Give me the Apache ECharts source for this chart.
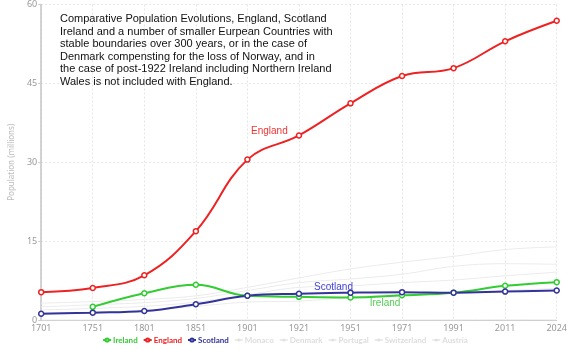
<!DOCTYPE html>
<html><head><meta charset="utf-8">
<script src="https://cdn.jsdelivr.net/npm/echarts@6/dist/echarts.min.js"></script>
<style>html,body{margin:0;padding:0;background:#fff}#c{width:570px;height:350px}</style>
</head><body><div id="c"></div>
<script>
const years = ['1701','1751','1801','1851','1901','1921','1951','1971','1991','2011','2024'];
const ireland  = [null, 2.5, 5.1, 6.7, 4.6, 4.4, 4.3, 4.7, 5.2, 6.5, 7.2];
const england  = [5.3, 6.1, 8.5, 16.9, 30.5, 35.1, 41.2, 46.4, 47.9, 53.0, 56.9];
const scotland = [1.2, 1.4, 1.7, 3.0, 4.6, 5.0, 5.2, 5.3, 5.2, 5.4, 5.6];
const monaco      = [0.01, 0.01, 0.01, 0.01, 0.02, 0.02, 0.02, 0.02, 0.03, 0.04, 0.04];
const denmark     = [1.3, 1.5, 1.8, 2.6, 3.4, 3.6, 4.3, 4.9, 5.1, 5.6, 6.0];
const portugal    = [2.5, 2.9, 3.3, 4.1, 5.6, 7.1, 7.8, 8.7, 10.2, 10.7, 10.6];
const switzerland = [1.9, 2.2, 2.6, 3.4, 4.8, 6.2, 6.5, 7.1, 7.6, 8.4, 9.1];
const austria     = [3.2, 3.5, 3.9, 4.6, 6.2, 8.0, 9.7, 11.0, 12.1, 13.4, 13.9];
const yTicks = [0, 15, 30, 45, 60];
const titleText = 'Comparative Population Evolutions, England, Scotland\nIreland and a number of smaller Eurpean Countries with\nstable boundaries over 300 years, or in the case of\nDenmark compensting for the loss of Norway, and in\nthe case of post-1922 Ireland including Northern Ireland\nWales is not included with England.';

const chart = echarts.init(document.getElementById('c'));
function withLabel(arr, idx, label) {
  return arr.map((v, i) => i === idx ? {value: v, label: label} : v);
}
function main(name, data, color) {
  return {
    name, type: 'line', smooth: 0.4, data, color,
    symbol: 'circle', symbolSize: 5, showSymbol: true,
    lineStyle: {width: 2, color},
    itemStyle: {color: '#fff', borderColor: color, borderWidth: 1.5},
    z: 5
  };
}
function faint(name, data) {
  return {
    name, type: 'line', smooth: 0.4, data, color: '#e2e2e2',
    showSymbol: false, symbol: 'circle', lineStyle: {width: 1, color: '#ebebeb'}, z: 1
  };
}
const series = [
  main('Ireland', withLabel(ireland, 7, {show: true, formatter: 'Ireland', position: 'bottom', offset: [-17, -5], color: '#55cc55', fontSize: 10, fontFamily: 'Liberation Sans'}), '#33cc33'),
  main('England', withLabel(england, 5, {show: true, formatter: 'England', position: 'left', offset: [-3, -4], color: '#ee3333', fontSize: 10, fontFamily: 'Liberation Sans'}), '#ee2222'),
  main('Scotland', withLabel(scotland, 6, {show: true, formatter: 'Scotland', position: 'top', offset: [-17, 8], color: '#4444dd', fontSize: 10, fontFamily: 'Liberation Sans'}), '#333399'),
  faint('Monaco', monaco),
  faint('Denmark', denmark),
  faint('Portugal', portugal),
  faint('Switzerland', switzerland),
  faint('Austria', austria)
];
const legendColors = {Ireland: '#33cc33', England: '#ee2222', Scotland: '#333399'};
chart.setOption({
  animation: false,
  title: {text: titleText, left: 55, top: 8,
    textStyle: {fontSize: 11, fontWeight: 'normal', color: '#111', lineHeight: 12.5, fontFamily: 'Liberation Sans'}},
  grid: {left: 40, right: 10, top: -2, bottom: 30},
  legend: {
    top: 331, left: 'center', itemWidth: 8, itemHeight: 4, itemGap: 5,
    data: ['Ireland','England','Scotland','Monaco','Denmark','Portugal','Switzerland','Austria'].map(n => ({
      name: n, textStyle: {color: legendColors[n] || '#dddddd'}
    })),
    textStyle: {fontSize: 8, fontWeight: 'bold', fontFamily: 'Lato', padding: [0, 0, 0, -3]}
  },
  xAxis: {
    type: 'category', data: years, boundaryGap: false,
    axisLine: {lineStyle: {color: '#cccccc', width: 1}},
    axisTick: {show: false},
    axisLabel: {color: '#999', fontSize: 9, fontFamily: 'Noto Sans', margin: 4},
    splitLine: {show: true, lineStyle: {color: '#e6e6e6', type: [2, 2]}}
  },
  yAxis: {
    type: 'value', min: yTicks[0], max: yTicks[yTicks.length - 1], interval: 15,
    name: 'Population (millions)', nameLocation: 'middle', nameGap: 24,
    nameTextStyle: {color: '#bbb', fontSize: 8, fontFamily: 'Noto Sans'},
    axisLine: {show: true, lineStyle: {color: '#c4c4c4', width: 1.5}},
    axisTick: {show: true, length: 3, lineStyle: {color: '#ccc'}},
    axisLabel: {color: '#999', fontSize: 9, fontFamily: 'Noto Sans', margin: 4},
    splitLine: {show: true, lineStyle: {color: '#e6e6e6', type: [2, 2]}}
  },
  series
});
</script></body></html>
